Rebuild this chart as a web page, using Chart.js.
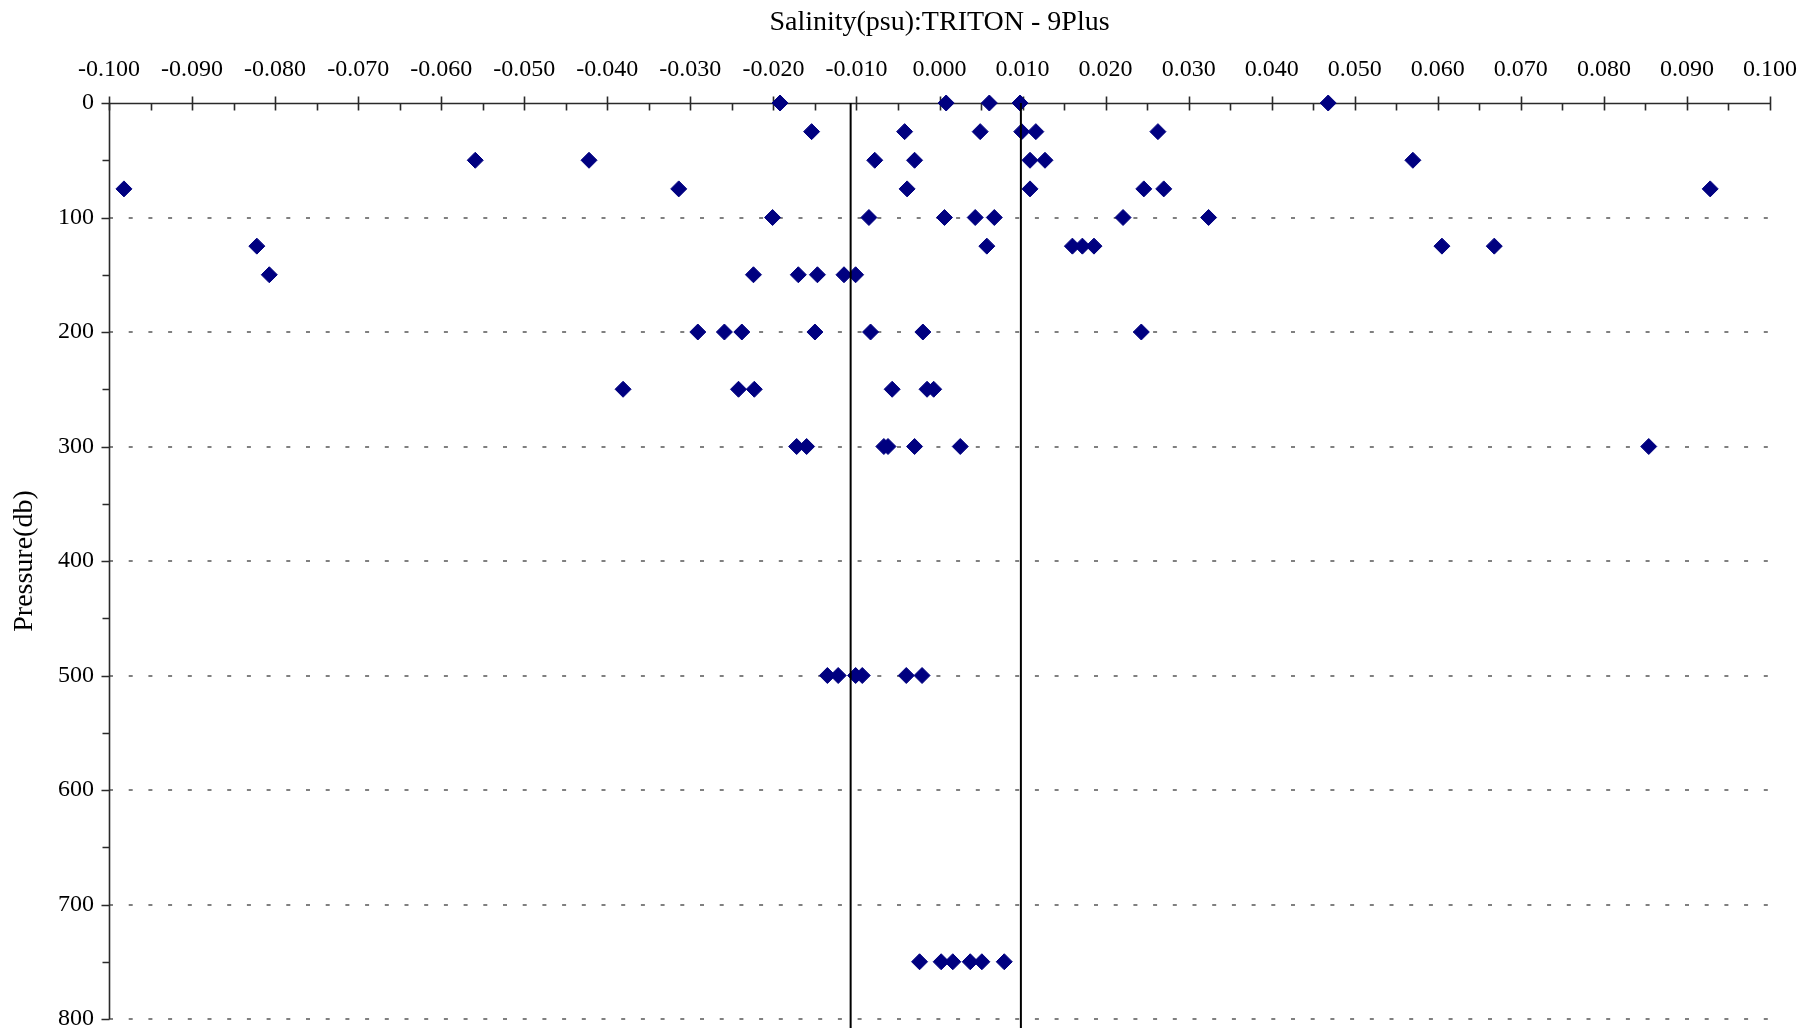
<!DOCTYPE html>
<html>
<head>
<meta charset="utf-8">
<title>Salinity(psu):TRITON - 9Plus</title>
<script src="https://cdn.jsdelivr.net/npm/chart.js@4.4.1/dist/chart.umd.min.js"></script>
<style>
  html, body { margin: 0; padding: 0; background: #ffffff; }
  canvas { display: block; }
</style>
</head>
<body>
<canvas id="salChart" width="1803" height="1028"></canvas>
<script>
// pressure levels (db) and the salinity differences (psu) observed at each level
const pressureLevels = [0, 25, 50, 75, 100, 125, 150, 200, 250, 300, 500, 750];
const salinityDiffs = [
  [-0.0192, 0.0008, 0.0060, 0.0097, 0.0468],
  [-0.0154, -0.0042, 0.0049, 0.0099, 0.0116, 0.0263],
  [-0.0559, -0.0422, -0.0078, -0.0030, 0.0109, 0.0127, 0.0570],
  [-0.0982, -0.0314, -0.0039, 0.0109, 0.0246, 0.0270, 0.0928],
  [-0.0201, -0.0085, 0.0006, 0.0043, 0.0066, 0.0221, 0.0324],
  [-0.0822, 0.0057, 0.0160, 0.0172, 0.0186, 0.0605, 0.0668],
  [-0.0807, -0.0224, -0.0170, -0.0147, -0.0115, -0.0101],
  [-0.0291, -0.0259, -0.0238, -0.0150, -0.0083, -0.0020, 0.0243],
  [-0.0381, -0.0242, -0.0223, -0.0057, -0.0015, -0.0007],
  [-0.0172, -0.0160, -0.0067, -0.0062, -0.0030, 0.0025, 0.0854],
  [-0.0135, -0.0122, -0.0101, -0.0093, -0.0040, -0.0021],
  [-0.0024, 0.0002, 0.0016, 0.0037, 0.0051, 0.0078]
];

// limit lines
const limitLines = [-0.0107, 0.0098];

// axis ticks
const xTicks = [-0.100, -0.090, -0.080, -0.070, -0.060, -0.050, -0.040, -0.030, -0.020, -0.010,
  0.000, 0.010, 0.020, 0.030, 0.040, 0.050, 0.060, 0.070, 0.080, 0.090, 0.100];
const yTicks = [0, 100, 200, 300, 400, 500, 600, 700, 800];

const serif = 'Liberation Serif';

const points = [];
pressureLevels.forEach((p, i) => {
  salinityDiffs[i].forEach(s => points.push({ x: s, y: p }));
});

// axis lines, tick marks and dotted pressure grid
const axisFrame = {
  id: 'axisFrame',
  beforeDatasetsDraw(chart) {
    const { ctx, chartArea: a, scales: { x, y } } = chart;
    ctx.save();

    ctx.strokeStyle = '#808080';
    ctx.lineWidth = 2;
    ctx.setLineDash([4, 15.7]);
    yTicks.forEach(v => {
      if (v === 0) return;
      const py = Math.round(y.getPixelForValue(v));
      ctx.beginPath();
      ctx.moveTo(a.left, py);
      ctx.lineTo(a.right, py);
      ctx.stroke();
    });
    ctx.setLineDash([]);

    const y0 = Math.round(y.getPixelForValue(0)) + 0.5;
    const xl = Math.round(a.left) + 0.5;
    ctx.strokeStyle = '#2a2a2a';
    ctx.lineWidth = 1.6;
    ctx.beginPath();
    ctx.moveTo(xl - 8, y0);
    ctx.lineTo(a.right, y0);
    ctx.moveTo(xl, y0);
    ctx.lineTo(xl, a.bottom);
    ctx.stroke();

    ctx.beginPath();
    // x: majors cross the axis, minors point into the plot
    for (let i = 0; i <= 40; i++) {
      const px = Math.round(x.getPixelForValue(-0.1 + i * 0.005)) + 0.5;
      ctx.moveTo(px, y0 + 7);
      ctx.lineTo(px, i % 2 === 0 ? y0 - 7 : y0);
    }
    // y: ticks point outwards
    for (let i = 1; i <= 16; i++) {
      const py = Math.round(y.getPixelForValue(i * 50)) + 0.5;
      ctx.moveTo(xl - (i % 2 === 0 ? 8 : 7), py);
      ctx.lineTo(xl, py);
    }
    ctx.stroke();
    ctx.restore();
  }
};

new Chart(document.getElementById('salChart'), {
  type: 'scatter',
  data: {
    datasets: [
      ...limitLines.map(v => ({
        type: 'line',
        data: [{ x: v, y: 0 }, { x: v, y: 810 }],
        borderColor: '#000000',
        borderWidth: 2,
        pointRadius: 0,
        clip: false
      })),
      {
        label: 'Salinity',
        data: points,
        pointStyle: 'rectRot',
        pointRadius: 8,
        borderWidth: 1,
        backgroundColor: '#000080',
        borderColor: '#000080',
        clip: false
      }
    ]
  },
  options: {
    responsive: false,
    animation: false,
    layout: { autoPadding: false, padding: { top: 0, left: 0, right: 33, bottom: 9 } },
    plugins: {
      legend: { display: false },
      tooltip: { enabled: false }
    },
    scales: {
      x: {
        type: 'linear',
        position: 'top',
        min: -0.1,
        max: 0.1,
        afterBuildTicks: s => { s.ticks = xTicks.map(v => ({ value: v })); },
        afterFit: s => {
          s.height = 103;
          s.paddingLeft = 0;
          s.paddingRight = 0;
        },
        grid: { display: false, drawTicks: false },
        border: { display: false },
        ticks: {
          padding: 19,
          maxRotation: 0,
          autoSkip: false,
          color: '#000',
          font: { family: serif, size: 24 },
          callback: v => v.toFixed(3)
        },
        title: {
          display: true,
          text: 'Salinity(psu):TRITON - 9Plus',
          color: '#000',
          font: { family: serif, size: 28 },
          padding: { top: 6, bottom: 0 }
        }
      },
      y: {
        type: 'linear',
        reverse: true,
        min: 0,
        max: 800,
        afterBuildTicks: s => { s.ticks = yTicks.map(v => ({ value: v })); },
        afterFit: s => {
          s.width = 109;
          s.paddingTop = 0;
          s.paddingBottom = 0;
        },
        grid: { display: false, drawTicks: false },
        border: { display: false },
        ticks: {
          padding: 15,
          autoSkip: false,
          color: '#000',
          font: { family: serif, size: 24 }
        },
        title: {
          display: true,
          text: 'Pressure(db)',
          color: '#000',
          font: { family: serif, size: 28 },
          padding: { top: 8, bottom: 0 }
        }
      }
    }
  },
  plugins: [axisFrame]
});
</script>
</body>
</html>
